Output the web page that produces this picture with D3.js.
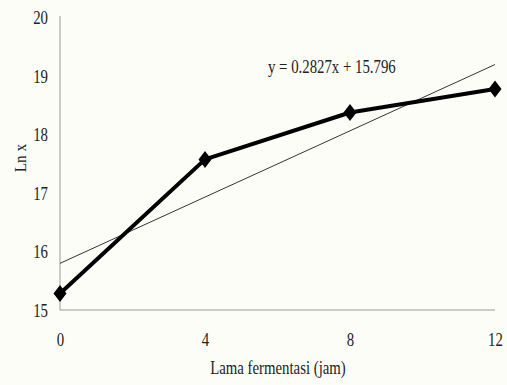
<!DOCTYPE html>
<html>
<head>
<meta charset="utf-8">
<script src="https://cdn.jsdelivr.net/npm/d3@7"></script>
<style>
  html, body { margin: 0; padding: 0; background: #fdfdf8; }
  svg { display: block; }
  text { font-family: "Liberation Serif", "Times New Roman", serif; fill: #222; }
</style>
</head>
<body>
<svg id="chart" width="507" height="385"></svg>
<script>
// Fermentation time (hours) and the natural log of cell count
const hours = [0, 4, 8, 12];
const lnValues = [15.28, 17.57, 18.37, 18.77];
const xTicks = [0, 4, 8, 12];
const yTicks = [15, 16, 17, 18, 19, 20];
// Linear trend fitted to the series
const slope = 0.2827;
const intercept = 15.796;
const equationLabel = "y = 0.2827x + 15.796";
const xTitle = "Lama fermentasi (jam)";
const yTitle = "Ln x";

const svg = d3.select("#chart");
const W = 507, H = 385;
const m = { left: 60, right: 12, top: 17, bottom: 75 };

const x = d3.scaleLinear().domain([0, 12]).range([m.left, W - m.right]);
const y = d3.scaleLinear().domain([15, 20]).range([H - m.bottom, m.top]);

const fs = 19, sx = 0.78;

// axes: plain grey lines with no tick marks
const yAxis = d3.axisLeft(y).tickValues(yTicks).tickSize(0).tickPadding(0);
const gy = svg.append("g").attr("transform", `translate(${m.left},0)`).call(yAxis);
gy.select(".domain").attr("stroke", "#9a9a9a").attr("stroke-width", 1).attr("d", `M0,${y(20) - 1}V${y(15)}`);
gy.selectAll(".tick text").remove();
gy.selectAll(".tick").append("text")
  .attr("transform", `translate(-12,6.5) scale(${sx},1)`)
  .attr("text-anchor", "end")
  .style("font-size", fs + "px")
  .text(d => d);

const xAxis = d3.axisBottom(x).tickValues(xTicks).tickSize(0).tickPadding(0);
const gx = svg.append("g").attr("transform", `translate(0,${y(15)})`).call(xAxis);
gx.select(".domain").attr("stroke", "#9a9a9a").attr("stroke-width", 1).attr("d", `M${m.left},0H${x(12)}`);
gx.selectAll(".tick text").remove();
gx.selectAll(".tick").append("text")
  .attr("transform", `translate(0,36) scale(${sx},1)`)
  .attr("text-anchor", "middle")
  .style("font-size", fs + "px")
  .text(d => d);

// trend line
svg.append("line")
  .attr("x1", x(0)).attr("y1", y(intercept))
  .attr("x2", x(12)).attr("y2", y(slope * 12 + intercept))
  .attr("stroke", "#333").attr("stroke-width", 1);

// data series
const pts = hours.map((h, i) => [h, lnValues[i]]);
svg.append("path")
  .datum(pts)
  .attr("fill", "none")
  .attr("stroke", "#000")
  .attr("stroke-width", 4)
  .attr("stroke-linejoin", "round")
  .attr("d", d3.line().x(d => x(d[0])).y(d => y(d[1])));

svg.selectAll("path.marker")
  .data(pts)
  .join("path")
  .attr("class", "marker")
  .attr("d", "M0,-8.5L6.5,0L0,8.5L-6.5,0Z")
  .attr("transform", d => `translate(${x(d[0])},${y(d[1])})`)
  .attr("fill", "#000");

// equation label
svg.append("text")
  .attr("transform", `translate(268,73) scale(${sx},1)`)
  .style("font-size", fs + "px")
  .text(equationLabel);

// axis titles
svg.append("text")
  .attr("transform", `translate(278,374) scale(${sx},1)`)
  .attr("text-anchor", "middle")
  .style("font-size", fs + "px")
  .text(xTitle);

svg.append("text")
  .attr("transform", `translate(26,158) rotate(-90) scale(0.9,1)`)
  .attr("text-anchor", "middle")
  .style("font-size", "17px")
  .text(yTitle);
</script>
</body>
</html>
